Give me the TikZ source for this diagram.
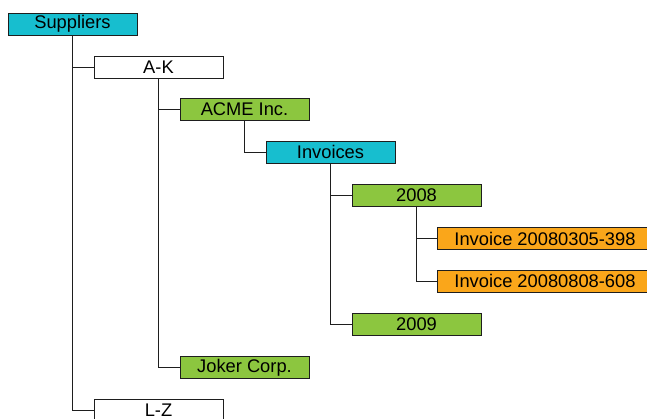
\documentclass[tikz,border=0pt]{standalone}
\usepackage{fontspec}
\setmainfont{Liberation Sans}
\definecolor{cyanbox}{RGB}{23,190,207}
\definecolor{greenbox}{RGB}{140,198,63}
\definecolor{orangebox}{RGB}{250,166,26}
\definecolor{edgegray}{RGB}{30,30,30}
\tikzset{
  box/.style={draw=edgegray, line width=1pt, rectangle, inner sep=0pt,
    minimum width=129pt, minimum height=22pt,
    font=\fontsize{18.3}{18.3}\selectfont},
  cbox/.style={box, fill=cyanbox},
  gbox/.style={box, fill=greenbox},
  obox/.style={box, fill=orangebox, minimum width=216pt},
  wbox/.style={box, fill=white},
  link/.style={draw=edgegray, line width=1pt}
}
\begin{document}
\begin{tikzpicture}[x=1pt,y=-1pt]
\useasboundingbox (0,0) rectangle (647,418);
\clip (0,0) rectangle (647,418);
\node[cbox] (sup) at (72.5,24) {Suppliers};
\node[wbox] (ak) at (158.5,67) {A-K};
\node[gbox] (acme) at (244.5,109) {ACME Inc.};
\node[cbox] (inv) at (330.5,152) {Invoices};
\node[gbox] (y08) at (416.5,195) {2008};
\node[obox] (i1) at (545,238.5) {Invoice 20080305-398};
\node[obox] (i2) at (545,281) {Invoice 20080808-608};
\node[gbox] (y09) at (416.5,324) {2009};
\node[gbox] (joker) at (244.5,367.5) {Joker Corp.};
\node[wbox] (lz) at (158.5,410) {L-Z};
\path[link] (sup.south) |- (ak.west);
\path[link] (sup.south) |- (lz.west);
\path[link] (ak.south) |- (acme.west);
\path[link] (ak.south) |- (joker.west);
\path[link] (acme.south) |- (inv.west);
\path[link] (inv.south) |- (y08.west);
\path[link] (inv.south) |- (y09.west);
\path[link] (y08.south) |- (i1.west);
\path[link] (y08.south) |- (i2.west);
\end{tikzpicture}
\end{document}
